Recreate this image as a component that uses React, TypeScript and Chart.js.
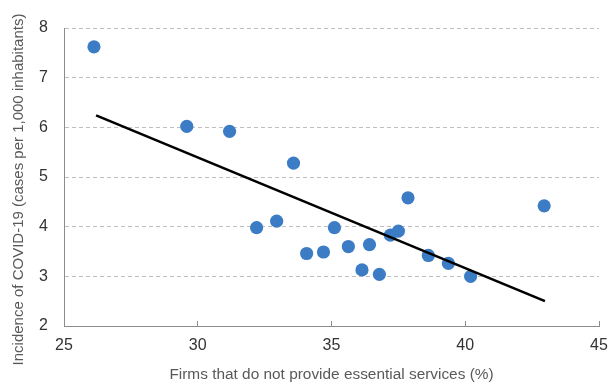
import React, { useEffect, useRef } from "react";
import { Chart, registerables } from "chart.js";

Chart.register(...registerables);

const firmsPct = [26.12, 29.59, 31.19, 33.58, 32.2, 32.95, 34.07, 34.7, 35.11, 35.63, 36.14, 36.42, 36.79, 37.2, 37.5, 37.86, 38.62, 39.37, 40.2, 42.95];
const incidence = [7.62, 6.02, 5.92, 5.28, 3.98, 4.11, 3.46, 3.49, 3.98, 3.6, 3.13, 3.64, 3.04, 3.83, 3.91, 4.58, 3.42, 3.26, 3.0, 4.42];
const trendX = [26.2, 42.98];
const trendY = [6.24, 2.5];
const xTicks = [25, 30, 35, 40, 45];
const yTicks = [2, 3, 4, 5, 6, 7, 8];

const FONT = "'Liberation Sans', Arial, sans-serif";

export default function App() {
  const ref = useRef<HTMLCanvasElement | null>(null);
  useEffect(() => {
    document.body.style.margin = "0";
    const ctx = ref.current!;
    const chart = new Chart(ctx, {
      type: "scatter",
      data: {
        datasets: [
          {
            label: "Regions",
            data: firmsPct.map((x, i) => ({ x, y: incidence[i] })),
            backgroundColor: "#3b7cc4",
            borderWidth: 0,
            pointRadius: 6.6,
            order: 1,
          },
          {
            type: "line",
            label: "Trend",
            data: trendX.map((x, i) => ({ x, y: trendY[i] })),
            borderColor: "#000000",
            borderWidth: 2.6,
            pointRadius: 0,
            fill: false,
            order: 0,
          },
        ],
      },
      options: {
        responsive: false,
        animation: false,
        layout: { padding: { top: 28, right: 16, left: 0, bottom: 0 } },
        plugins: { legend: { display: false }, tooltip: { enabled: false } },
        scales: {
          x: {
            type: "linear",
            min: 25,
            max: 45,
            afterBuildTicks: (s: any) => {
              s.ticks = xTicks.map((v) => ({ value: v }));
            },
            afterFit: (s: any) => {
              s.height = 59;
              s.paddingRight = 0;
              s.paddingLeft = 0;
            },
            grid: {
              drawOnChartArea: false,
              drawTicks: true,
              tickLength: -5,
              color: "#8c8c8c",
            },
            border: { display: true, color: "#8c8c8c", width: 1 },
            ticks: {
              color: "#333333",
              font: { family: FONT, size: 16 },
              padding: 15,
              maxRotation: 0,
            },
            title: {
              display: true,
              text: "Firms that do not provide essential services (%)",
              color: "#595959",
              font: { family: FONT, size: 15.4 },
              padding: { top: 4, bottom: 1 },
            },
          },
          y: {
            type: "linear",
            min: 2,
            max: 8,
            afterBuildTicks: (s: any) => {
              s.ticks = yTicks.map((v) => ({ value: v }));
            },
            afterFit: (s: any) => {
              s.width = 64;
            },
            grid: {
              drawTicks: false,
              color: (c: any) => (c.tick && c.tick.value === 2 ? "rgba(0,0,0,0)" : "#bfbfbf"),
              lineWidth: 1,
            },
            border: { display: true, color: "#8c8c8c", width: 1, dash: [4, 3] } as any,
            ticks: {
              color: "#333333",
              font: { family: FONT, size: 16 },
              padding: 16,
            },
            title: {
              display: true,
              text: "Incidence of COVID-19 (cases per 1,000 inhabitants)      ",
              color: "#595959",
              font: { family: FONT, size: 15 },
              padding: { top: 10, bottom: 0 },
            },
          },
        },
      },
    });
    return () => chart.destroy();
  }, []);
  return (
    <div style={{ width: 615, height: 385, position: "relative", background: "#fff" }}>
      <canvas ref={ref} width={615} height={385} style={{ width: 615, height: 385 }} />
    </div>
  );
}
